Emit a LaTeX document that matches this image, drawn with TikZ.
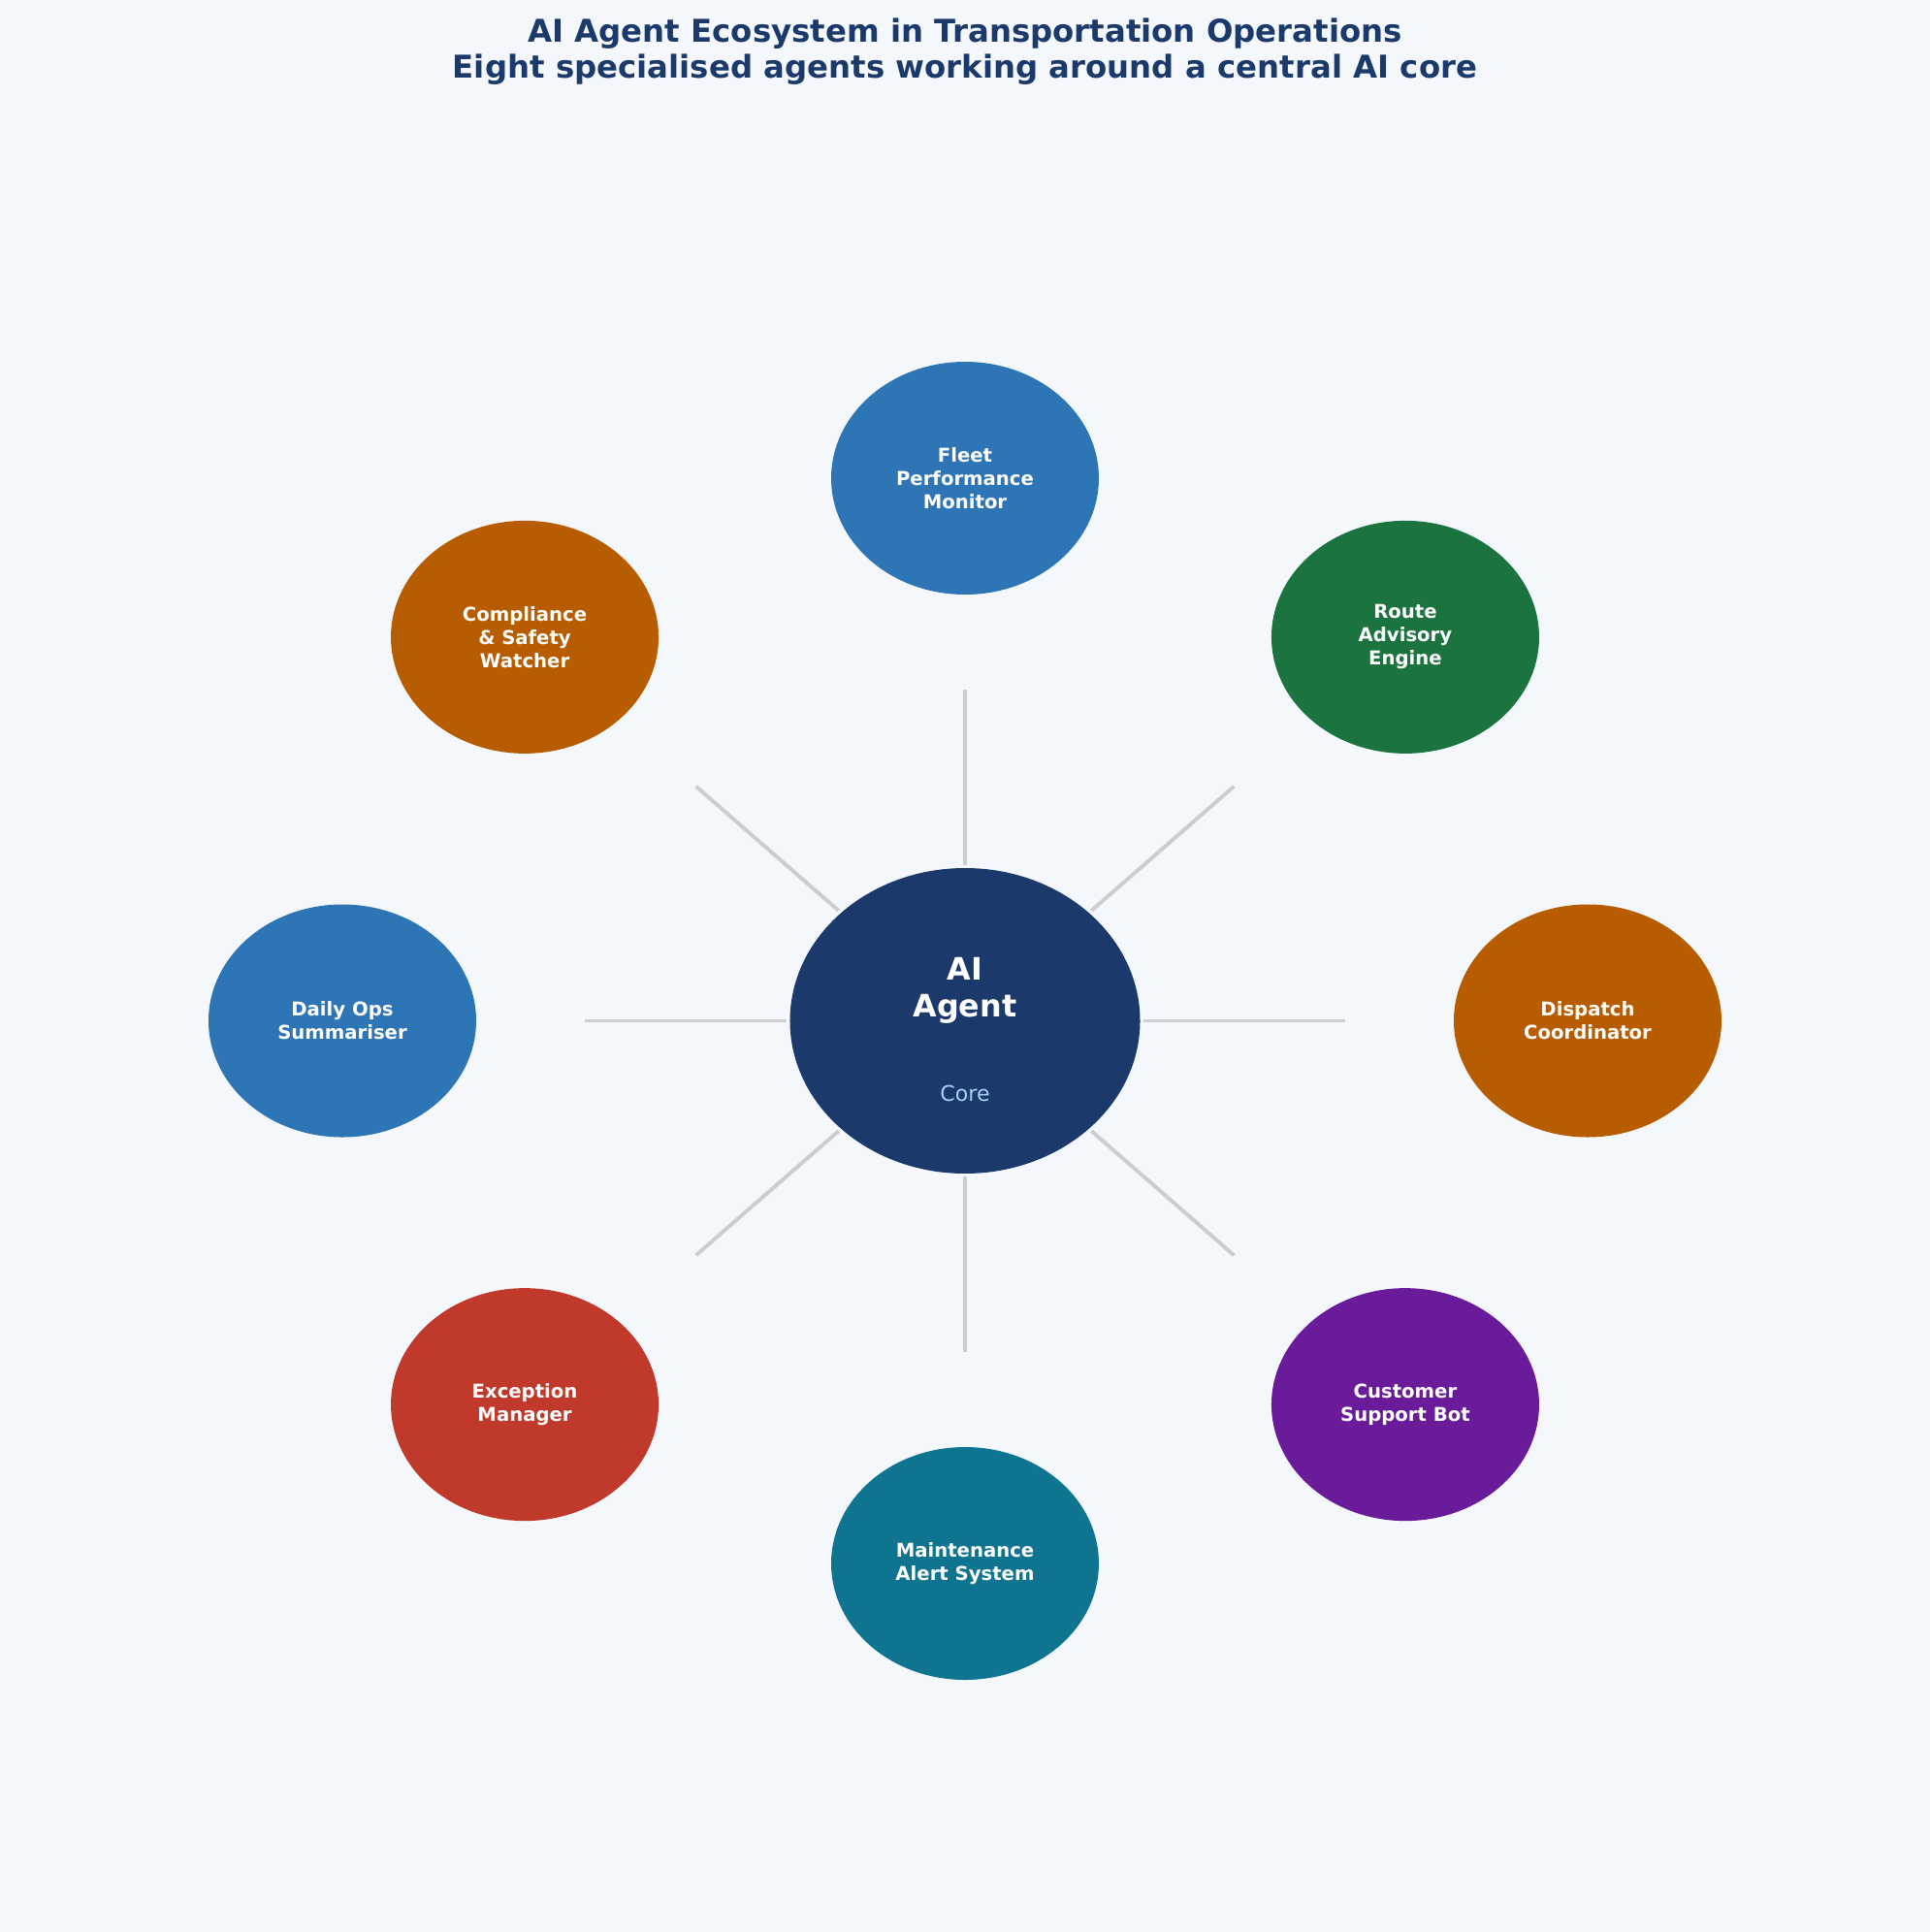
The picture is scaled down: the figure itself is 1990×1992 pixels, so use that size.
\documentclass[tikz,border=0pt]{standalone}
\usepackage{fontspec}
\setmainfont{DejaVu Sans}
\usepackage{tikz}
\usetikzlibrary{calc,shapes.geometric}
\definecolor{PageBg}{HTML}{F4F8FC}
\definecolor{Navy}{HTML}{1B3A6B}
\definecolor{AgBlue}{HTML}{2E75B6}
\definecolor{AgGreen}{HTML}{1B7340}
\definecolor{AgOrange}{HTML}{B85C00}
\definecolor{AgPurple}{HTML}{6A1B9A}
\definecolor{AgTeal}{HTML}{0F7490}
\definecolor{AgRed}{HTML}{C0392B}
\definecolor{CoreSub}{HTML}{A8D2F5}
\definecolor{SpokeGrey}{HTML}{CCCDD0}

\begin{document}
\begin{tikzpicture}[
  x=0.127mm, y=-0.127mm,
  agent/.style={ellipse, draw=none, inner sep=0pt, minimum width=35.05mm,
                minimum height=30.48mm, text=white, align=center,
                font=\fontsize{7.1}{8.67}\selectfont\bfseries},
  hub/.style={ellipse, fill=Navy, inner sep=0pt, minimum width=45.85mm,
              minimum height=40.0mm},
  hubtxt/.style={text=white, align=center, inner sep=0pt,
                 font=\fontsize{11.5}{13.73}\selectfont\bfseries},
  hubsub/.style={text=CoreSub, inner sep=0pt, font=\fontsize{8}{9.6}\selectfont},
  spoke/.style={draw=SpokeGrey, line width=0.5mm},
  ttl/.style={text=Navy, align=center, inner sep=0pt,
              font=\fontsize{11.7}{13.37}\selectfont\bfseries},
]

\def\CX{995}     % centre of the hub
\def\CY{1052.5}
\def\RX{642}     % orbit of the agents
\def\RY{559.5}

\fill[PageBg] (0,0) rectangle (1990,1992);
\useasboundingbox (0,0) rectangle (1990,1992);

\node[ttl] (title) at (\CX,53)
  {AI Agent Ecosystem in Transportation Operations\\
   Eight specialised agents working around a central AI core};

% ---- hub ----
\node[hub]    (core)    at (\CX,\CY)  {};
\node[hubtxt] (corettl) at (\CX,1021) {AI\\Agent};
\node[hubsub] (coresub) at (\CX,1127) {Core};

% ---- agents on the orbit ----
\foreach \n/\a/\c/\t in {
    fleet/90/AgBlue/{Fleet\\Performance\\Monitor},
    route/45/AgGreen/{Route\\Advisory\\Engine},
    dispatch/0/AgOrange/{Dispatch\\Coordinator},
    support/-45/AgPurple/{Customer\\Support Bot},
    maint/-90/AgTeal/{Maintenance\\Alert System},
    except/-135/AgRed/{Exception\\Manager},
    dailyops/180/AgBlue/{Daily Ops\\Summariser},
    safety/135/AgOrange/{Compliance\\\& Safety\\Watcher}}
  \node[agent, fill=\c] (\n) at ({\CX+\RX*cos(\a)},{\CY-\RY*sin(\a)}) {\t};

% spokes stop short of both ellipses
\foreach \n in {fleet,route,dispatch,support,maint,except,dailyops,safety}
  \draw[spoke] ($(core)!0.287!(\n)$) -- ($(core)!0.611!(\n)$);
\end{tikzpicture}
\end{document}
